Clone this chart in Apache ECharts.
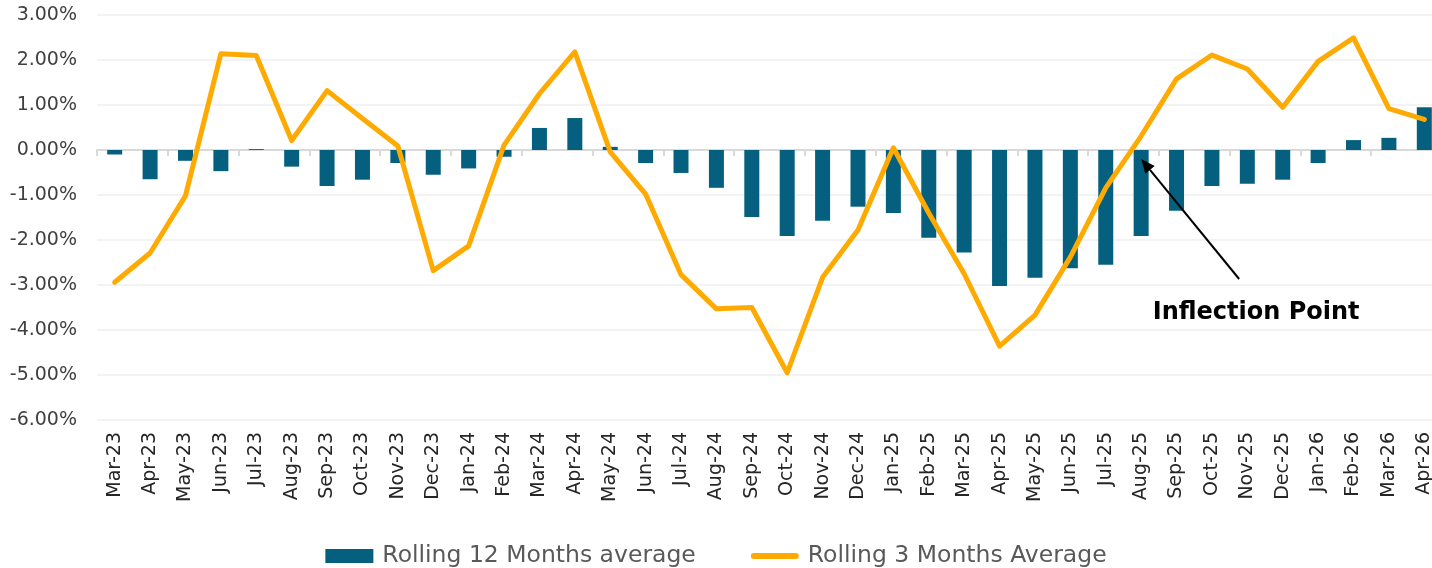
<!DOCTYPE html>
<html>
<head>
<meta charset="utf-8">
<script src="https://cdn.jsdelivr.net/npm/echarts@6/dist/echarts.min.js"></script>
<style>
    html, body { margin: 0; padding: 0; background: #fff; }
    #chart { width: 1432px; height: 568px; }
</style>
</head>
<body>
<div id="chart"></div>
<script>
const months = [
    'Mar-23', 'Apr-23', 'May-23', 'Jun-23', 'Jul-23', 'Aug-23', 'Sep-23', 'Oct-23', 'Nov-23', 'Dec-23',
    'Jan-24', 'Feb-24', 'Mar-24', 'Apr-24', 'May-24', 'Jun-24', 'Jul-24', 'Aug-24', 'Sep-24', 'Oct-24', 'Nov-24', 'Dec-24',
    'Jan-25', 'Feb-25', 'Mar-25', 'Apr-25', 'May-25', 'Jun-25', 'Jul-25', 'Aug-25', 'Sep-25', 'Oct-25', 'Nov-25', 'Dec-25',
    'Jan-26', 'Feb-26', 'Mar-26', 'Apr-26',
];
const rolling12 = [
    -0.10, -0.65, -0.24, -0.47, 0.02, -0.37, -0.80, -0.66, -0.29, -0.55,
    -0.41, -0.15, 0.49, 0.71, 0.07, -0.29, -0.51, -0.84, -1.49, -1.91, -1.57, -1.26,
    -1.40, -1.95, -2.28, -3.02, -2.84, -2.63, -2.55, -1.91, -1.35, -0.80, -0.75, -0.66,
    -0.29, 0.22, 0.27, 0.95,
];
const rolling3 = [
    -2.94, -2.29, -1.02, 2.14, 2.10, 0.21, 1.32, 0.70, 0.09, -2.68,
    -2.13, 0.11, 1.25, 2.18, -0.04, -0.98, -2.77, -3.53, -3.50, -4.95, -2.83, -1.78,
    0.05, -1.40, -2.75, -4.36, -3.67, -2.38, -0.84, 0.31, 1.58, 2.11, 1.80, 0.95,
    1.97, 2.49, 0.92, 0.68,
];
const yTicks = { min: -6, max: 3, interval: 1 };
const seriesNames = ['Rolling 12 Months average', 'Rolling 3 Months Average'];
const annotation = { month: 'Aug-25', value: -0.2, text: 'Inflection Point' };

!(function (window) {
    const { echarts } = window;
    const FONT = 'DejaVu Sans';

    const container = document.getElementById('chart');
    const chart = echarts.init(container);

    const option = {
        animation: false,
        grid: {
            left: 97,
            right: -10,
            top: 15,
            bottom: 148,
            outerBoundsMode: 'none',
        },
        legend: {
            top: 539,
            left: 'center',
            itemWidth: 48,
            itemHeight: 14,
            itemGap: 55,
            textStyle: {
                fontFamily: FONT,
                fontSize: 23.5,
                color: '#595959',
                padding: [0, 0, 0, 4],
            },
            data: [
                { name: seriesNames[0], icon: 'rect' },
                {
                    name: seriesNames[1],
                    // 圆头粗线图例
                    icon: 'path://M3,0H45A3,3 0 0 1 45,6H3A3,3 0 0 1 3,0Z',
                },
            ],
        },
        xAxis: [
            {
                // 底部标签
                type: 'category',
                data: months,
                axisLine: { show: false, onZero: false },
                axisTick: { show: false },
                axisLabel: {
                    rotate: 90,
                    interval: 0,
                    margin: 12,
                    fontFamily: FONT,
                    fontSize: 19,
                    color: '#262626',
                },
            },
            {
                // 零线和刻度
                type: 'category',
                data: months,
                position: 'bottom',
                axisLine: { onZero: true, lineStyle: { color: '#d9d9d9', width: 2 } },
                axisTick: { show: true, length: 6, lineStyle: { color: '#d9d9d9', width: 2 } },
                axisLabel: { show: false },
            },
        ],
        yAxis: {
            type: 'value',
            min: yTicks.min,
            max: yTicks.max,
            interval: yTicks.interval,
            axisLine: { show: false },
            axisTick: { show: false },
            splitLine: { lineStyle: { color: '#efefef', width: 1.5 } },
            axisLabel: {
                margin: 20,
                fontFamily: FONT,
                fontSize: 19,
                color: '#404040',
                formatter: v => `${v.toFixed(2)}%`,
            },
        },
        series: [
            {
                name: seriesNames[0],
                type: 'bar',
                xAxisIndex: 0,
                data: rolling12,
                barWidth: 15,
                itemStyle: { color: '#05607f' },
                z: 2,
            },
            {
                name: seriesNames[1],
                type: 'line',
                xAxisIndex: 0,
                data: rolling3,
                symbol: 'none',
                lineStyle: { color: '#ffaa00', width: 5, cap: 'round', join: 'round' },
                itemStyle: { color: '#ffaa00' },
                z: 3,
            },
        ],
    };
    chart.setOption(option);

    // 箭头和文字
    const tip = chart.convertToPixel({ gridIndex: 0 }, [annotation.month, annotation.value]);
    const tail = [tip[0] + 98, tip[1] + 120];
    const ang = Math.atan2(tip[1] - tail[1], tip[0] - tail[0]);
    const headLen = 14;
    const headW = 6;
    const base = [tip[0] - headLen * Math.cos(ang), tip[1] - headLen * Math.sin(ang)];
    const nx = -Math.sin(ang);
    const ny = Math.cos(ang);

    chart.setOption({
        graphic: [
            {
                type: 'line',
                shape: { x1: tail[0], y1: tail[1], x2: base[0], y2: base[1] },
                style: { stroke: '#000', lineWidth: 2 },
                z: 10,
            },
            {
                type: 'polygon',
                shape: {
                    points: [
                        tip,
                        [base[0] + nx * headW, base[1] + ny * headW],
                        [base[0] - nx * headW, base[1] - ny * headW],
                    ],
                },
                style: { fill: '#000' },
                z: 10,
            },
            {
                type: 'text',
                x: tail[0] + 17,
                y: tail[1] + 34,
                style: {
                    text: annotation.text,
                    fontFamily: FONT,
                    fontSize: 24,
                    fontWeight: 'bold',
                    fill: '#000',
                    align: 'center',
                    verticalAlign: 'middle',
                },
                z: 10,
            },
        ],
    });
}(window));
</script>
</body>
</html>
